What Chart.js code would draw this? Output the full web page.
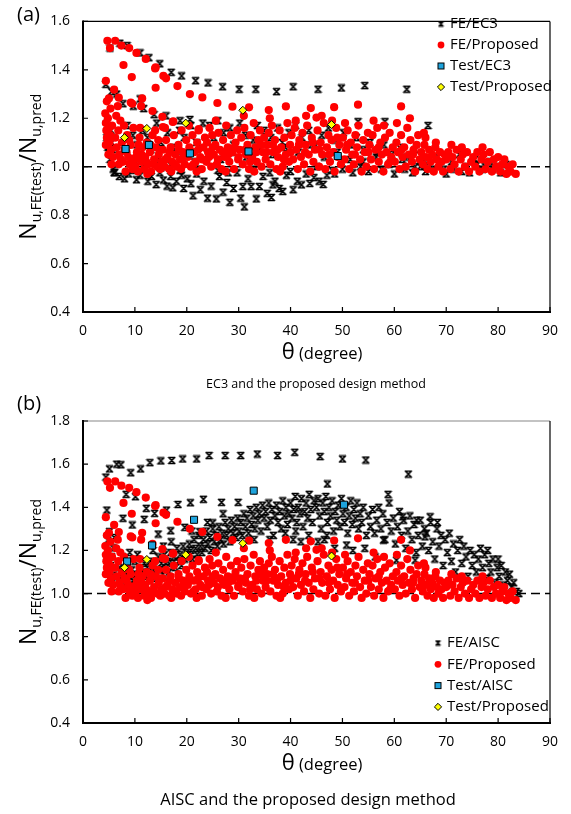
<!DOCTYPE html>
<html>
<head>
<meta charset="utf-8">
<script src="https://cdn.jsdelivr.net/npm/chart.js@4.4.1/dist/chart.umd.min.js"></script>
<style>
  body { margin: 0; background: #fff; }
  #wrap { position: relative; width: 571px; height: 814px; }
  canvas { position: absolute; left: 0; }
  #chartA { top: 0; }
  #chartB { top: 380px; }
</style>
</head>
<body>
<div id="wrap">
  <canvas id="chartA" width="571" height="400"></canvas>
  <canvas id="chartB" width="571" height="434"></canvas>
</div>
<script>
// --- Tick labels ---
const thetaTicks = [0, 10, 20, 30, 40, 50, 60, 70, 80, 90];
const ratioTicksA = [0.4, 0.6, 0.8, 1.0, 1.2, 1.4, 1.6];
const ratioTicksB = [0.4, 0.6, 0.8, 1.0, 1.2, 1.4, 1.6, 1.8];

// --- Series: [theta (degree), ratio] ---
const feProposed = [
  [4.7,1.52],[6.2,1.52],[5.2,1.49],[7.4,1.50],[8.9,1.49],[10.3,1.47],[12.1,1.445],[14,1.41],[16,1.365],[18.2,1.333],
  [20.6,1.30],[23,1.286],[25.9,1.263],[28.8,1.248],[32,1.245],[35.8,1.234],[39.1,1.249],[43.9,1.242],[48.4,1.246],[53,1.256],
  [61.3,1.249],[45,1.203],[65.7,1.14],[7.8,1.42],[9.4,1.37],[13.9,1.406],[14,1.326],[15.5,1.375],
  [4.4,1.354],[6,1.318],[6.7,1.25],[9.5,1.26],[11.2,1.25],[13.4,1.23],[15.3,1.206],[17.3,1.185],[15.4,1.164],[22.3,1.155],
  [5,1.282],[6.9,1.285],[9.2,1.265],[11.4,1.282],[17.4,1.187],
  [4.3,1.22],[4.4,1.18],[4.5,1.15],[4.6,1.12],[4.4,1.09],[4.8,1.20],[5.0,1.16],[5.2,1.13],[5.1,1.10],[5.4,1.07],
  [5.6,1.17],[5.8,1.04],[4.6,1.27],[5.3,1.24],[4.9,1.05],[5.5,1.01],
  [6.2,1.12],[6.5,1.08],[6.8,1.15],[7.0,1.05],[7.2,1.19],[7.5,1.10],[7.7,1.02],[8.0,1.07],[8.2,0.98],[8.5,1.13],
  [8.7,1.04],[9.0,1.01],[9.2,1.09],[9.5,0.99],[9.7,1.16],[9.9,1.03],[6.4,1.21],[7.9,1.17],[8.9,1.11],[6.9,1.01],
  [10.1,1.00],[10.4,1.06],[10.6,0.98],[10.9,1.12],[11.2,1.02],[11.5,1.08],[11.8,0.99],[12.0,1.04],[12.3,1.10],[12.6,1.01],
  [12.9,1.06],[13.1,0.98],[13.4,1.13],[13.7,1.03],[14.0,1.08],[14.3,1.00],[14.6,1.05],[14.9,0.99],[11.0,1.16],[12.4,0.97],
  [13.9,1.15],[10.7,1.09],[14.5,1.11],
  [15.1,1.02],[15.4,1.07],[15.7,1.00],[16.0,1.11],[16.3,1.04],[16.6,0.99],[16.9,1.08],[17.2,1.02],[17.5,1.13],[17.8,1.05],
  [18.1,1.00],[18.4,1.09],[18.7,1.03],[19.0,1.15],[19.3,1.06],[19.6,1.01],[19.9,1.11],[15.8,1.16],[17.0,0.98],[18.9,0.99],
  [20.2,1.04],[20.5,1.08],[20.8,1.00],[21.1,1.13],[21.4,1.06],[21.7,1.02],[22.0,1.10],[22.3,1.15],[22.6,1.04],[22.9,0.99],
  [23.2,1.08],[23.5,1.12],[23.8,1.02],[24.1,1.06],[24.4,1.16],[24.7,1.00],[20.4,1.17],[21.9,0.98],[23.9,1.10],[24.9,1.13],
  [25.2,1.05],[25.5,1.09],[25.8,1.01],[26.1,1.14],[26.4,1.07],[26.7,0.99],[27.0,1.11],[27.3,1.04],[27.6,1.17],[27.9,1.08],
  [28.2,1.02],[28.5,1.13],[28.8,1.06],[29.1,0.99],[29.4,1.10],[29.7,1.15],[25.6,1.19],[27.5,0.98],[29.9,1.03],
  [30.2,1.07],[30.5,1.12],[30.8,1.01],[31.1,1.16],[31.4,1.05],[31.7,1.09],[32.0,0.99],[32.3,1.13],[32.6,1.04],[32.9,1.18],
  [33.2,1.08],[33.5,1.02],[33.8,1.11],[34.1,1.15],[34.4,1.00],[34.7,1.06],[31.0,1.21],[33.0,0.98],[34.9,1.12],
  [35.2,1.03],[35.5,1.09],[35.8,1.14],[36.1,1.01],[36.4,1.17],[36.7,1.06],[37.0,1.11],[37.3,0.99],[37.6,1.04],[37.9,1.15],
  [38.2,1.08],[38.5,1.00],[38.8,1.12],[39.1,1.05],[39.4,1.18],[39.7,1.02],[36.0,1.20],[38.0,0.98],[39.9,1.09],
  [40.2,1.13],[40.5,1.03],[40.8,1.16],[41.1,1.07],[41.4,0.99],[41.7,1.11],[42.0,1.04],[42.3,1.14],[42.6,1.01],[42.9,1.09],
  [43.2,1.17],[43.5,1.05],[43.8,0.98],[44.1,1.12],[44.4,1.02],[44.7,1.07],[41.0,1.19],[43.0,1.21],
  [45.2,1.15],[45.5,1.00],[45.8,1.10],[46.1,1.05],[46.4,1.18],[46.7,0.99],[47.0,1.08],[47.3,1.13],[47.6,1.02],[47.9,1.11],
  [48.2,1.06],[48.5,0.98],[48.8,1.16],[49.1,1.04],[49.4,1.09],[49.7,1.01],[46.0,1.21],[48.0,1.19],
  [50.1,1.12],[50.4,1.03],[50.7,1.07],[51.0,1.15],[51.3,0.99],[51.6,1.10],[51.9,1.05],[52.2,1.01],[52.5,1.13],[52.8,1.08],
  [53.1,1.17],[53.4,1.03],[53.7,0.98],[54.0,1.11],[54.3,1.06],[54.6,1.00],[50.5,1.18],[54.9,1.14],
  [55.2,1.09],[55.5,1.03],[55.8,1.13],[56.1,0.99],[56.4,1.07],[56.7,1.16],[57.0,1.02],[57.3,1.10],[57.6,1.05],[57.9,0.98],
  [58.2,1.12],[58.5,1.06],[58.8,1.01],[59.1,1.14],[59.4,1.04],[59.7,1.08],[56.0,1.19],[58.0,1.17],
  [60.1,1.02],[60.4,1.10],[60.7,1.06],[61.0,0.99],[61.3,1.13],[61.6,1.04],[61.9,1.08],[62.2,1.00],[62.5,1.16],[62.8,1.05],
  [63.1,1.11],[63.4,1.02],[63.7,1.07],[64.0,0.98],[64.3,1.09],[64.6,1.13],[64.9,1.03],[60.5,1.18],[63.0,1.20],
  [65.2,1.06],[65.5,1.01],[65.8,1.09],[66.1,1.04],[66.4,0.99],[66.7,1.07],[67.0,1.02],[67.3,1.05],[67.6,0.98],[67.9,1.08],
  [68.2,1.03],[68.5,1.00],[68.8,1.06],[69.1,1.02],[69.4,0.98],[69.7,1.05],[66.0,1.12],[68.0,1.10],
  [70.0,1.03],[70.4,1.06],[70.8,0.99],[71.2,1.04],[71.6,1.01],[72.0,1.07],[72.4,0.98],[72.8,1.03],[73.2,1.05],[73.6,1.00],
  [74.0,1.06],[74.4,0.98],[74.8,1.02],[71.0,1.09],[73.0,1.08],
  [75.2,1.04],[75.6,1.00],[76.0,1.06],[76.4,0.98],[76.8,1.03],[77.2,1.05],[77.6,0.99],[78.0,1.02],[78.4,1.06],[78.8,0.98],
  [79.2,1.03],[79.6,1.00],[80.0,1.04],[80.4,0.98],[80.8,1.01],[81.2,1.03],[81.6,0.97],[82.0,1.00],[82.4,0.98],[82.8,1.01],
  [83.4,0.97],[77.0,1.08],
  [7.3,1.03],[8.4,1.06],[9.3,1.03],[10.2,1.04],[11.3,1.05],[12.2,1.02],[13.0,1.09],[13.6,1.01],[14.8,1.07],[15.9,1.03],
  [16.7,1.06],[17.7,1.01],[18.5,1.07],[19.4,1.04],[20.6,1.06],[21.3,1.01],[22.2,1.07],[23.0,1.03],[24.3,1.04],[25.0,1.08],
  [26.0,1.03],[26.9,1.06],[28.0,1.05],[29.2,1.08],[30.0,1.04],[31.2,1.07],[32.2,1.02],[33.4,1.06],[34.3,1.09],[35.4,1.06],
  [36.6,1.09],[37.5,1.07],[38.7,1.03],[40.0,1.06],[41.6,1.09],[42.8,1.06],[44.3,1.10],[45.6,1.07],[47.4,1.05],[49.0,1.12],
  [50.9,1.09],[52.4,1.05],[55.0,1.06],[57.0,1.08],[59.2,1.02],[61.4,1.07],[63.6,1.05]
];

const feEc3 = [
  [5.2,1.49],[7.1,1.51],[8.5,1.50],[11,1.47],[12.7,1.45],[14.8,1.425],[17,1.39],[19,1.375],[21.7,1.355],[24.1,1.346],
  [26.9,1.33],[30.1,1.32],[33.3,1.32],[37.3,1.31],[40.5,1.33],[45.3,1.32],[49.8,1.325],[54.3,1.335],[62.4,1.32],
  [66.5,1.17],[58.2,1.186],[53.0,1.186],
  [4.4,1.34],[5.5,1.31],[6.5,1.30],[7.7,1.26],[9.7,1.25],[11,1.28],[11.7,1.24],[13.7,1.215],[16,1.21],[18.7,1.19],[20.6,1.195],
  [4.6,1.12],[4.8,1.08],[5.0,1.06],[5.2,1.03],[5.5,1.10],[5.8,0.99],[6.0,0.975],[5.4,1.15],[4.5,1.20],[6.3,1.07],
  [8.5,1.17],[9.6,1.13],[10.4,1.09],[11.5,1.15],[12.4,1.12],[13.1,1.07],[14.2,1.18],[15.0,1.10],[16.3,1.14],[17.4,1.08],
  [18.6,1.15],[19.5,1.12],[20.8,1.17],[21.9,1.10],[23.1,1.18],[24.4,1.17],[25.2,1.12],[26.0,1.19],[27.1,1.14],[28.3,1.16],
  [29.0,1.09],[30.2,1.18],[31.3,1.13],[32.8,1.11],[33.6,1.17],[34.9,1.15],[36.2,1.12],[37.5,1.16],[38.4,1.10],[39.7,1.14],
  [41.0,1.17],[42.2,1.12],[43.5,1.15],[44.8,1.09],[46.0,1.13],[47.3,1.16],[48.6,1.11],[50.2,1.14],[51.5,1.09],[52.7,1.12],
  [54.0,1.07],[55.3,1.10],[56.8,1.06],[58.0,1.09],[59.5,1.05],[61.0,1.08],[62.5,1.04],[64.0,1.07],[65.5,1.03],
  [10.2,1.02],[12.0,1.00],[14.5,1.03],[16.8,1.01],[19.2,1.04],[21.5,1.02],[24.0,1.05],[26.5,1.03],[29.0,1.06],[31.5,1.04],
  [34.0,1.07],[36.5,1.05],[39.0,1.08],[41.5,1.06],[44.0,1.09],[46.5,1.04],[49.0,1.06],[51.5,1.03],[54.0,1.02],[56.5,1.04],
  [59.0,1.01],[61.5,1.03],[64.0,1.00],[66.5,1.02],[68.0,1.04],[69.5,0.99],[71.0,1.02],[72.5,1.05],[74.0,1.00],[75.5,1.03],
  [77.0,0.99],[78.5,1.02],[80.0,1.00],[81.5,1.01],[66.0,0.98],[70.0,0.97],[73.0,0.98],[76.0,1.01],[79.0,0.99],
  [6.1,0.977],[7.0,0.96],[8.0,0.95],[8.8,0.97],[9.6,0.985],[10.3,0.946],[11.0,0.965],[11.8,0.99],[12.5,0.94],[13.2,0.96],
  [14.1,0.926],[14.8,0.975],[15.5,0.945],[16.2,0.92],[16.9,0.96],[17.3,0.913],[18.0,0.94],[18.7,0.985],[19.4,0.91],[20.1,0.95],
  [20.8,0.93],[21.2,0.88],[21.9,0.97],[22.6,0.905],[23.3,0.94],[24.0,0.87],[24.7,0.92],[25.7,0.867],[26.3,0.96],[27.0,0.895],
  [27.7,0.935],[28.3,0.853],[29.0,0.91],[29.7,0.975],[30.4,0.87],[30.8,0.918],[31.1,0.834],[31.8,0.95],[32.4,0.918],[33.4,0.867],
  [34.0,0.918],[34.7,0.96],[35.5,0.89],[36.3,0.873],[37.0,0.94],[37.8,0.91],[38.5,0.898],[39.2,0.965],[40.5,0.905],[41.3,0.94],
  [42.1,0.925],[43.0,0.97],[43.7,0.931],[44.5,0.955],[45.5,0.94],[46.3,0.927],[47.0,0.965],[48.0,0.985],[22.0,0.99],[26.0,0.985],
  [33.0,0.99],[36.0,0.975],[40.0,0.98],[19.0,0.965],[15.0,0.995],[28.0,0.975],[36.6,0.925],
  [45.0,1.00],[48.5,0.97],[50.0,0.99],[52.0,0.975],[53.5,1.00],[55.0,0.98],[57.5,0.99],[60.0,0.97],[62.0,0.99],[63.5,0.975],
  [65.0,1.00],[67.5,0.99],[71.5,0.99],[74.5,0.975],[77.5,1.00],[80.5,0.975],[82.5,0.99]
];

const feAisc = [
  [4.4,1.54],[5.1,1.578],[6.5,1.60],[7.3,1.597],[9.2,1.56],[11.1,1.578],[12.9,1.607],[15.0,1.615],[17.1,1.617],[19.2,1.624],
  [21.9,1.624],[24.3,1.64],[27.4,1.64],[30.4,1.64],[33.6,1.647],[37.5,1.64],[40.8,1.655],[45.7,1.635],[50.0,1.624],[54.5,1.619],
  [62.7,1.554],[47.1,1.508],
  [4.6,1.387],[8.3,1.46],[10.1,1.449],[12.2,1.395],[13.8,1.372],[16.1,1.387],[18.3,1.413],[20.7,1.421],[23.2,1.437],[26.7,1.423],
  [29.9,1.423],[7.7,1.349],[9.5,1.318],[11.8,1.344],[14.5,1.276],[16.9,1.291],[19.6,1.307],[22.5,1.287],[25.0,1.328],
  [4.8,1.248],[5.1,1.287],[5.8,1.212],[5.5,1.171],[5.8,1.086],[5.8,1.055],[4.6,1.20],[5.3,1.13],[6.0,1.26],
  [7.0,1.12],[7.3,1.07],[7.6,1.17],[7.9,1.09],[8.2,1.05],[8.5,1.13],[8.8,1.08],[9.1,1.04],[9.4,1.11],[9.7,1.06],
  [10.0,1.15],[10.3,1.09],[10.6,1.05],[10.9,1.12],[11.2,1.07],[11.5,1.10],[11.8,1.14],[9.0,1.19],[10.5,1.18],[8.0,1.03],[11.0,1.03],
  [12.1,1.08],[12.4,1.12],[12.7,1.06],[13.0,1.15],[13.3,1.10],[13.6,1.07],[13.9,1.13],[14.2,1.09],[14.5,1.17],[14.8,1.11],
  [15.1,1.14],[15.4,1.09],[15.7,1.18],[16.0,1.12],[16.3,1.15],[16.6,1.10],[16.9,1.19],[17.2,1.14],[17.5,1.17],[17.8,1.12],
  [18.1,1.21],[18.4,1.15],[18.7,1.18],[19.0,1.13],[19.3,1.22],[19.6,1.16],[19.9,1.19],[13.5,1.20],[15.5,1.22],[17.0,1.24],
  [20.2,1.18],[20.5,1.23],[20.8,1.20],[21.1,1.16],[21.4,1.25],[21.7,1.21],[22.0,1.18],[22.3,1.27],[22.6,1.22],[22.9,1.19],
  [23.2,1.25],[23.5,1.21],[23.8,1.29],[24.1,1.23],[24.4,1.26],[24.7,1.20],[25.0,1.30],[25.3,1.24],[25.6,1.27],[25.9,1.22],
  [26.2,1.31],[26.5,1.25],[26.8,1.28],[27.1,1.23],[27.4,1.33],[27.7,1.27],[28.0,1.30],[28.3,1.24],[28.6,1.34],[28.9,1.28],
  [29.2,1.31],[29.5,1.26],[29.8,1.35],[21.0,1.29],[24.0,1.33],[27.0,1.37],
  [30.1,1.29],[30.4,1.33],[30.7,1.27],[31.0,1.37],[31.3,1.31],[31.6,1.35],[31.9,1.28],[32.2,1.39],[32.5,1.32],[32.8,1.36],
  [33.1,1.30],[33.4,1.40],[33.7,1.34],[34.0,1.37],[34.3,1.29],[34.6,1.41],[34.9,1.35],[35.2,1.38],[35.5,1.31],[35.8,1.42],
  [36.1,1.34],[36.4,1.39],[36.7,1.27],[37.0,1.36],[37.3,1.41],[37.6,1.33],[37.9,1.38],[38.2,1.30],[38.5,1.43],[38.8,1.36],
  [39.1,1.40],[39.4,1.32],[39.7,1.37],[36.0,1.25],[33.0,1.25],[39.0,1.28],
  [40.0,1.42],[40.3,1.35],[40.6,1.39],[40.9,1.45],[41.2,1.33],[41.5,1.40],[41.8,1.37],[42.1,1.44],[42.4,1.31],[42.7,1.38],
  [43.0,1.42],[43.3,1.35],[43.6,1.46],[43.9,1.39],[44.2,1.33],[44.5,1.43],[40.5,1.25],[42.0,1.24],[43.5,1.27],[41.0,1.29],
  [45.0,1.40],[45.3,1.44],[45.6,1.36],[45.9,1.30],[46.2,1.42],[46.5,1.38],[46.8,1.45],[47.1,1.33],[47.4,1.40],[47.7,1.36],
  [48.0,1.43],[48.3,1.29],[48.6,1.38],[48.9,1.34],[49.2,1.41],[49.5,1.31],[49.8,1.44],[50.1,1.37],[50.4,1.33],[50.7,1.40],
  [51.0,1.28],[51.3,1.36],[51.6,1.43],[51.9,1.32],[52.2,1.39],[52.5,1.35],[52.8,1.42],[53.1,1.30],[53.4,1.37],[53.7,1.33],
  [54.0,1.40],[45.3,1.24],[46.5,1.25],[48.5,1.21],[50.8,1.225],[52.0,1.20],[54.3,1.21],[47.0,1.27],
  [54.6,1.27],[55.0,1.36],[55.4,1.31],[55.8,1.39],[56.2,1.28],[56.6,1.34],[57.0,1.40],[57.4,1.30],[57.8,1.37],[58.2,1.25],
  [58.6,1.33],[58.8,1.46],[59.0,1.42],[59.4,1.29],[59.8,1.35],[60.2,1.23],[60.6,1.31],[61.0,1.38],[61.4,1.27],[61.8,1.34],
  [62.2,1.21],[62.6,1.29],[63.0,1.36],[63.4,1.25],[63.8,1.32],[64.2,1.19],[64.6,1.27],[65.0,1.34],[65.4,1.22],[65.8,1.30],
  [56.3,1.17],[57.9,1.248],[60.4,1.155],[64.0,1.155],[65.9,1.263],[61.6,1.356],[64.3,1.34],
  [66.2,1.28],[66.6,1.20],[67.0,1.33],[67.4,1.24],[67.8,1.16],[68.2,1.30],[68.6,1.22],[69.0,1.27],[69.4,1.13],[69.8,1.25],
  [70.2,1.19],[70.6,1.28],[71.0,1.15],[71.4,1.23],[71.8,1.10],[72.2,1.20],[72.6,1.25],[73.0,1.14],[73.4,1.22],[73.8,1.17],
  [74.2,1.08],[74.6,1.20],[75.0,1.13],[75.4,1.18],[75.8,1.10],[76.2,1.16],[76.6,1.21],[66.9,1.356],[68.3,1.33],
  [77.0,1.12],[77.4,1.18],[77.8,1.07],[78.2,1.14],[78.6,1.10],[79.0,1.16],[79.4,1.05],[79.8,1.12],[80.2,1.08],[80.6,1.13],
  [81.0,1.04],[81.4,1.10],[81.8,1.06],[82.2,1.09],[82.6,1.03],[83.0,1.05],[83.5,1.01],[84.0,1.00],[80.0,1.16],[78.0,1.20]
];

const testEc3 = [[8.2,1.073],[12.7,1.09],[20.6,1.055],[31.9,1.063],[49.1,1.044]];
const testAisc = [[8.5,1.149],[13.3,1.223],[21.4,1.342],[32.9,1.477],[50.3,1.412]];
const testProposed = [[8.0,1.12],[12.3,1.158],[19.8,1.18],[30.8,1.233],[47.9,1.174]];

const FONT = '"Open Sans", "Noto Sans", sans-serif';
const toXY = arr => arr.map(p => ({ x: p[0], y: p[1] }));

// asterisk-like marker used by the FE/code series
function makeStar(size, lw) {
    const c = document.createElement('canvas');
    c.width = size; c.height = size;
    const g = c.getContext('2d');
    g.strokeStyle = '#000';
    g.lineWidth = lw;
    const a = 1, b = size - 1;
    g.beginPath();
    g.moveTo(a, a); g.lineTo(b, b);
    g.moveTo(b, a); g.lineTo(a, b);
    g.moveTo(a + 1, a + 0.5); g.lineTo(b - 1, a + 0.5);
    g.moveTo(a + 1, b - 0.5); g.lineTo(b - 1, b - 0.5);
    g.stroke();
    return c;
}
const starImg = makeStar(9, 1.6);
const starSmall = makeStar(7, 1.3);

function drawMarker(ctx, kind, x, y) {
    ctx.save();
    if (kind === 'star') {
        ctx.drawImage(starSmall, x - 3.5, y - 3.5);
    } else if (kind === 'dot') {
        ctx.fillStyle = '#ff0000';
        ctx.beginPath(); ctx.arc(x, y, 3.4, 0, Math.PI * 2); ctx.fill();
    } else if (kind === 'square') {
        ctx.fillStyle = '#1ea3dc'; ctx.strokeStyle = '#000'; ctx.lineWidth = 1;
        ctx.fillRect(x - 3, y - 3, 6, 6); ctx.strokeRect(x - 3, y - 3, 6, 6);
    } else {
        ctx.fillStyle = '#ffff00'; ctx.strokeStyle = '#000'; ctx.lineWidth = 1;
        ctx.beginPath();
        ctx.moveTo(x, y - 3.6); ctx.lineTo(x + 3.6, y); ctx.lineTo(x, y + 3.6); ctx.lineTo(x - 3.6, y);
        ctx.closePath(); ctx.fill(); ctx.stroke();
    }
    ctx.restore();
}

function drawYTitle(ctx, x, cy) {
    const parts = [
        { t: 'N', s: 23, dy: 0 }, { t: 'u,FE(test)', s: 14, dy: 5 },
        { t: '/N', s: 23, dy: 0 }, { t: 'u,pred', s: 14, dy: 5 }
    ];
    ctx.save();
    let total = 0;
    parts.forEach(p => { ctx.font = p.s + 'px ' + FONT; p.w = ctx.measureText(p.t).width; total += p.w; });
    ctx.translate(x, cy);
    ctx.rotate(-Math.PI / 2);
    ctx.fillStyle = '#000';
    ctx.textAlign = 'left';
    ctx.textBaseline = 'alphabetic';
    let pos = -total / 2;
    parts.forEach(p => { ctx.font = p.s + 'px ' + FONT; ctx.fillText(p.t, pos, p.dy); pos += p.w; });
    ctx.restore();
}

function drawXTitle(ctx, cx, baseline) {
    ctx.save();
    ctx.fillStyle = '#000';
    ctx.textBaseline = 'alphabetic';
    ctx.textAlign = 'left';
    ctx.font = '22px ' + FONT;
    const w1 = ctx.measureText('\u03b8').width;
    ctx.font = '16.5px ' + FONT;
    const w2 = ctx.measureText(' (degree)').width;
    let x = cx - (w1 + w2) / 2;
    ctx.font = '22px ' + FONT;
    ctx.fillText('\u03b8', x, baseline);
    ctx.font = '16.5px ' + FONT;
    ctx.fillText(' (degree)', x + w1, baseline);
    ctx.restore();
}

// frame, inward ticks, reference line, titles and legend
function decoPlugin(o) {
    return {
        id: 'deco',
        beforeDatasetsDraw(chart) {
            const { ctx, chartArea: a, scales } = chart;
            const y1 = scales.y.getPixelForValue(1.0);
            ctx.save();
            ctx.strokeStyle = '#000';
            ctx.lineWidth = 1.6;
            ctx.setLineDash([9, 5]);
            ctx.beginPath(); ctx.moveTo(a.left, y1); ctx.lineTo(a.right, y1); ctx.stroke();
            ctx.restore();
        },
        afterDraw(chart) {
            const { ctx, chartArea: a, scales } = chart;
            ctx.save();
            // top + right border
            ctx.lineWidth = 1.2;
            ctx.strokeStyle = o.topColor;
            ctx.beginPath(); ctx.moveTo(a.left, a.top); ctx.lineTo(a.right, a.top); ctx.stroke();
            ctx.strokeStyle = '#000';
            ctx.beginPath(); ctx.moveTo(a.right, a.top); ctx.lineTo(a.right, a.bottom); ctx.stroke();
            // axes
            ctx.lineWidth = 2;
            ctx.beginPath(); ctx.moveTo(a.left, a.top - 1); ctx.lineTo(a.left, a.bottom); ctx.lineTo(a.right + 1, a.bottom); ctx.stroke();
            // inward ticks
            ctx.lineWidth = 1.2;
            ctx.beginPath();
            thetaTicks.forEach(v => {
                const px = scales.x.getPixelForValue(v);
                ctx.moveTo(px, a.bottom); ctx.lineTo(px, a.bottom - 5);
            });
            o.yTicks.forEach(v => {
                const py = scales.y.getPixelForValue(v);
                ctx.moveTo(a.left, py); ctx.lineTo(a.left + 5, py);
            });
            ctx.stroke();

            drawYTitle(ctx, 36, (a.top + a.bottom) / 2);
            drawXTitle(ctx, 322, a.bottom + 47);

            ctx.fillStyle = '#000';
            ctx.textBaseline = 'middle';
            ctx.textAlign = 'left';
            ctx.font = '20px ' + FONT;
            ctx.fillText(o.panel, 17, o.panelY);

            ctx.textAlign = 'center';
            ctx.font = o.captionSize + 'px ' + FONT;
            ctx.fillText(o.caption, o.captionX, o.captionY);

            // legend
            ctx.textAlign = 'left';
            ctx.font = '15px ' + FONT;
            o.legend.forEach((item, i) => {
                const y = o.legendY + i * o.legendGap;
                drawMarker(ctx, item.kind, o.legendX, y);
                ctx.fillStyle = '#000';
                ctx.fillText(item.label, o.legendX + 9, y);
            });
            ctx.restore();
        }
    };
}

function makeScales(yTicks, yMax, xHeight) {
    return {
        x: {
            type: 'linear', min: 0, max: 90,
            afterBuildTicks: s => { s.ticks = thetaTicks.map(v => ({ value: v })); },
            ticks: { color: '#000', font: { family: FONT, size: 14 }, padding: 11, maxRotation: 0, callback: v => String(v) },
            grid: { display: false, drawTicks: false, tickLength: 0 },
            border: { display: false },
            afterFit: s => { s.height = xHeight; }
        },
        y: {
            type: 'linear', min: 0.4, max: yMax,
            afterBuildTicks: s => { s.ticks = yTicks.map(v => ({ value: v })); },
            ticks: { color: '#000', font: { family: FONT, size: 14 }, padding: 13, callback: v => v.toFixed(1) },
            grid: { display: false, drawTicks: false, tickLength: 0 },
            border: { display: false },
            afterFit: s => { s.width = 83; }
        }
    };
}

function codeSet(label, data) {
    return { label: label, data: toXY(data), pointStyle: starImg, pointRadius: 4, order: 3 };
}
function proposedSet() {
    return { label: 'FE/Proposed', data: toXY(feProposed), pointStyle: 'circle', pointRadius: 4.1,
             backgroundColor: '#ff0000', borderWidth: 0, order: 2 };
}
function testSet(label, data) {
    return { label: label, data: toXY(data), pointStyle: 'rect', pointRadius: 5,
             backgroundColor: '#1ea3dc', borderColor: '#000', borderWidth: 1, order: 1 };
}
function testPropSet() {
    return { label: 'Test/Proposed', data: toXY(testProposed), pointStyle: 'rectRot', pointRadius: 4,
             backgroundColor: '#ffff00', borderColor: '#000', borderWidth: 1, order: 0 };
}

const common = {
    responsive: false,
    animation: false,
    events: [],
    plugins: { legend: { display: false }, tooltip: { enabled: false } }
};

new Chart(document.getElementById('chartA'), {
    type: 'scatter',
    data: { datasets: [testPropSet(), testSet('Test/EC3', testEc3), proposedSet(), codeSet('FE/EC3', feEc3)] },
    options: Object.assign({}, common, {
        layout: { padding: { left: 0, right: 21, top: 10, bottom: 0 } },
        scales: makeScales(ratioTicksA, 1.6, 88)
    }),
    plugins: [decoPlugin({
        topColor: '#000', yTicks: ratioTicksA, panel: '(a)', panelY: 15,
        caption: 'EC3 and the proposed design method', captionSize: 12.5, captionX: 316, captionY: 384,
        legendX: 441, legendY: 24, legendGap: 21,
        legend: [
            { kind: 'star', label: 'FE/EC3' }, { kind: 'dot', label: 'FE/Proposed' },
            { kind: 'square', label: 'Test/EC3' }, { kind: 'diamond', label: 'Test/Proposed' }
        ]
    })]
});

new Chart(document.getElementById('chartB'), {
    type: 'scatter',
    data: { datasets: [testPropSet(), testSet('Test/AISC', testAisc), proposedSet(), codeSet('FE/AISC', feAisc)] },
    options: Object.assign({}, common, {
        layout: { padding: { left: 0, right: 21, top: 41, bottom: 0 } },
        scales: makeScales(ratioTicksB, 1.8, 91)
    }),
    plugins: [decoPlugin({
        topColor: '#888', yTicks: ratioTicksB, panel: '(b)', panelY: 24,
        caption: 'AISC and the proposed design method', captionSize: 16.5, captionX: 308, captionY: 420,
        legendX: 438, legendY: 263, legendGap: 21.3,
        legend: [
            { kind: 'star', label: 'FE/AISC' }, { kind: 'dot', label: 'FE/Proposed' },
            { kind: 'square', label: 'Test/AISC' }, { kind: 'diamond', label: 'Test/Proposed' }
        ]
    })]
});
</script>
</body>
</html>
